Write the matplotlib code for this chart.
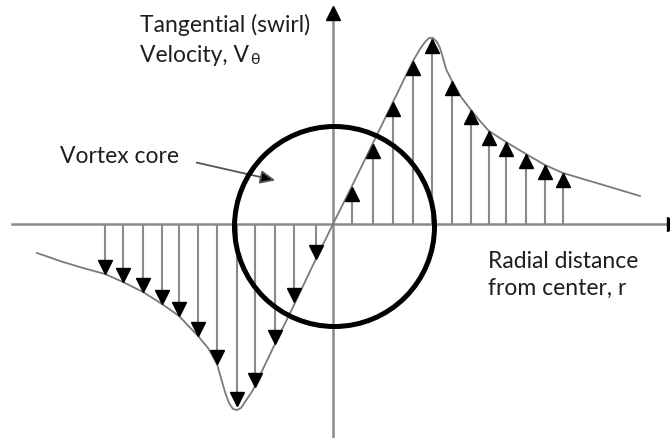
import numpy as np
import matplotlib
matplotlib.use("Agg")
import matplotlib.pyplot as plt
from matplotlib.patches import Circle

plt.rcParams['font.family'] = ['Lato', 'DejaVu Sans']

# velocity profile (radial distance, swirl velocity)
curve_r_right = [0, 20, 40, 60, 80, 87, 92, 96, 100, 104, 107, 110, 113, 117, 119,
                 128, 138, 147, 156, 173, 193, 212, 230, 250, 267, 287, 307]
curve_v_right = [0, 40, 81, 122, 163, 175, 182, 186, 186, 182, 176, 166, 155, 147, 143,
                 127, 114, 103, 93, 82, 70, 59, 51, 45, 40, 34, 28]

curve_r_left = [-296, -270, -250, -228, -210, -190, -171, -154, -135, -125, -116,
                -112, -108, -104, -100, -96, -92, -88, -80, -60, -40, -20, 0]
curve_v_left = [-29, -38, -44, -50, -58, -68, -80, -92, -112, -124, -140,
                -154, -168, -179, -185, -186, -184, -178, -166, -124, -83, -41, 0]

# velocity arrows
arrow_r_right = [19, 40, 60, 80, 99, 119, 138, 156, 173, 193, 212, 230]
arrow_v_right = [37, 80, 122, 163, 185, 143, 114, 93, 82, 70, 59, 51]
arrow_r_left = [-228, -210, -190, -171, -154, -135, -116, -96, -78, -58, -39, -17]
arrow_v_left = [-50, -58, -68, -80, -92, -112, -140, -182, -163, -120, -78, -35]

core_radius = 100

W, H = 670, 439
fig = plt.figure(figsize=(W / 100, H / 100), dpi=100)
ax = fig.add_axes([0, 0, 1, 1])
ax.set_xlim(-333, W - 333)
ax.set_ylim(225 - H, 225)
ax.axis('off')

gray = '#8a8a8a'
head_ms = 9.5
half = head_ms / 72 * 100 / 2  # half marker size in data (pixel) units

# axes
ax.plot([-321, 340], [0, 0], color=gray, lw=1.8, zorder=1)
ax.plot([0, 0], [-220, 212], color=gray, lw=1.8, zorder=1)
ax.plot(0, 218 - half, marker='^', ms=head_ms, color='black', zorder=3)
ax.plot(348 - half, 0, marker='>', ms=head_ms, color='black', zorder=3)

# profile curve
ax.plot(curve_r_right, curve_v_right, color='#7a7a7a', lw=1.3, zorder=2)
ax.plot(curve_r_left, curve_v_left, color='#7a7a7a', lw=1.3, zorder=2)

# arrows
ax.vlines(arrow_r_right, 0, arrow_v_right, color=gray, lw=1.5, zorder=1)
ax.vlines(arrow_r_left, 0, arrow_v_left, color=gray, lw=1.5, zorder=1)
ax.plot(arrow_r_right, np.array(arrow_v_right) - half, ls='none', marker='^',
        ms=head_ms, color='black', zorder=3)
ax.plot(arrow_r_left, np.array(arrow_v_left) + half, ls='none', marker='v',
        ms=head_ms, color='black', zorder=3)

# vortex core
ax.add_patch(Circle((1.5, -2.5), core_radius, fill=False, ec='black', lw=3.6, zorder=4))

txt = '#1e1e1e'
fs = 16.5
ax.text(-193, 193, 'Tangential (swirl)', fontsize=fs, color=txt, va='baseline')
t1 = ax.text(-193, 163, 'Velocity, V', fontsize=fs, color=txt, va='baseline')
ax.annotate('θ', xy=(1, 0), xycoords=t1, xytext=(0.5, -0.5), textcoords='offset points',
            fontsize=11.5, color=txt, va='bottom', ha='left')

ax.text(-273, 62, 'Vortex core', fontsize=fs, color=txt, va='baseline')
ax.annotate('', xy=(-55, 43), xytext=(-139, 62),
            arrowprops=dict(arrowstyle='-|>,head_length=0.9,head_width=0.4',
                            fc='black', ec='#555555', lw=1.3))

ax.text(155, -43, 'Radial distance', fontsize=fs, color=txt, va='baseline')
ax.text(155, -70, 'from center, r', fontsize=fs, color=txt, va='baseline')

fig.savefig('out.png', dpi=100)
